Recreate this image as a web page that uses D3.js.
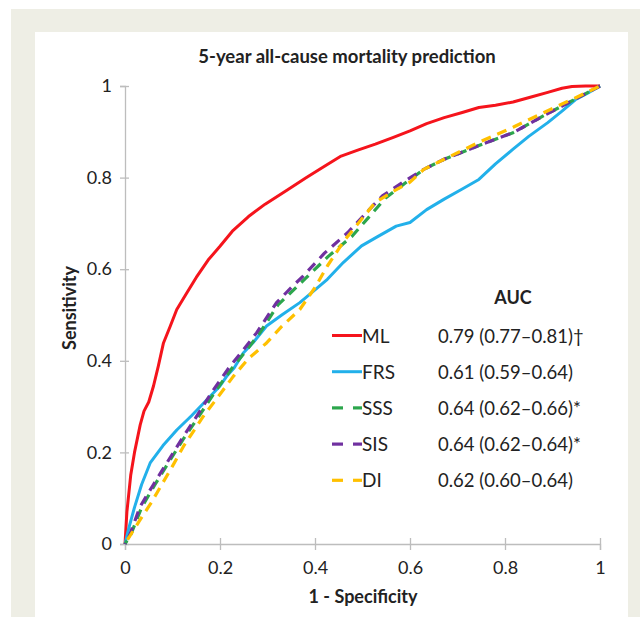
<!DOCTYPE html>
<html>
<head>
<meta charset="utf-8">
<script src="https://cdn.jsdelivr.net/npm/d3@7"></script>
<style>
  body { margin: 0; background: #fff; }
  text { font-family: Lato, "Open Sans", sans-serif; fill: #222; }
</style>
</head>
<body>
<div id="chart-container"></div>
<script>
// ROC curves: [1 - specificity, sensitivity]
const mlPoints = [[0,0],[0.004,0.07],[0.012,0.15],[0.02,0.2],[0.032,0.26],[0.04,0.29],[0.05,0.31],[0.06,0.345],[0.07,0.388],[0.081,0.439],[0.095,0.475],[0.109,0.512],[0.13,0.548],[0.15,0.582],[0.175,0.62],[0.2,0.65],[0.226,0.683],[0.26,0.715],[0.295,0.742],[0.34,0.772],[0.382,0.8],[0.42,0.825],[0.455,0.847],[0.49,0.86],[0.527,0.873],[0.565,0.888],[0.6,0.902],[0.635,0.918],[0.672,0.931],[0.71,0.942],[0.745,0.953],[0.78,0.958],[0.817,0.965],[0.855,0.976],[0.89,0.986],[0.92,0.995],[0.941,0.999],[0.97,1],[1,1]];
const frsPoints = [[0,0],[0.007,0.031],[0.02,0.08],[0.035,0.13],[0.053,0.177],[0.08,0.215],[0.109,0.249],[0.14,0.28],[0.179,0.322],[0.2,0.345],[0.214,0.366],[0.23,0.385],[0.249,0.417],[0.27,0.44],[0.298,0.476],[0.33,0.5],[0.368,0.527],[0.4,0.555],[0.426,0.578],[0.46,0.615],[0.498,0.651],[0.53,0.67],[0.571,0.694],[0.6,0.702],[0.635,0.73],[0.672,0.753],[0.71,0.775],[0.745,0.796],[0.78,0.83],[0.817,0.862],[0.85,0.89],[0.89,0.92],[0.92,0.945],[0.948,0.97],[0.975,0.985],[1,1]];
const sssPoints = [[0,0],[0.012,0.02],[0.035,0.08],[0.062,0.128],[0.09,0.175],[0.122,0.228],[0.155,0.278],[0.19,0.333],[0.226,0.385],[0.255,0.422],[0.282,0.458],[0.322,0.522],[0.355,0.555],[0.38,0.58],[0.428,0.628],[0.478,0.672],[0.512,0.712],[0.548,0.755],[0.59,0.788],[0.629,0.818],[0.672,0.84],[0.745,0.87],[0.817,0.898],[0.89,0.94],[0.962,0.979],[1,1]];
const sisPoints = [[0,0],[0.01,0.02],[0.032,0.082],[0.06,0.13],[0.088,0.177],[0.12,0.23],[0.151,0.279],[0.185,0.335],[0.221,0.388],[0.25,0.425],[0.277,0.461],[0.319,0.527],[0.35,0.56],[0.375,0.585],[0.42,0.635],[0.469,0.68],[0.505,0.72],[0.542,0.76],[0.585,0.79],[0.629,0.818],[0.672,0.84],[0.745,0.87],[0.817,0.898],[0.89,0.94],[0.962,0.979],[1,1]];
const diPoints = [[0,0],[0.007,0.012],[0.03,0.05],[0.055,0.09],[0.077,0.129],[0.1,0.17],[0.123,0.213],[0.165,0.279],[0.195,0.32],[0.228,0.366],[0.26,0.405],[0.298,0.439],[0.33,0.475],[0.368,0.512],[0.4,0.56],[0.426,0.607],[0.46,0.66],[0.498,0.709],[0.527,0.746],[0.565,0.77],[0.6,0.79],[0.629,0.818],[0.672,0.84],[0.745,0.877],[0.817,0.91],[0.89,0.946],[0.95,0.975],[1,1]];

const seriesNames = ["ML", "FRS", "SSS", "SIS", "DI"];
const aucLabels = ["0.79 (0.77\u20130.81)\u2020", "0.61 (0.59\u20130.64)", "0.64 (0.62\u20130.66)*", "0.64 (0.62\u20130.64)*", "0.62 (0.60\u20130.64)"];
const xTicks = [0, 0.2, 0.4, 0.6, 0.8, 1];
const yTicks = [0, 0.2, 0.4, 0.6, 0.8, 1];

const width = 640, height = 617;
const margin = { top: 86, right: 40, bottom: 73, left: 125 };
const colors = ["#f5141c", "#22b0ea", "#2ca64c", "#7030a0", "#ffc000"];
const dashed = [false, false, true, true, true];
const allPoints = [mlPoints, frsPoints, sssPoints, sisPoints, diPoints];

const svg = d3.select("#chart-container")
    .append("svg")
    .attr("width", width)
    .attr("height", height);

// page frame: beige band with white panel
svg.append("rect").attr("x", 11).attr("y", 9).attr("width", width - 11).attr("height", height - 9).attr("fill", "#eeeee5");
svg.append("rect").attr("x", 35).attr("y", 32).attr("width", 593).attr("height", height - 32).attr("fill", "#fff");

const xScale = d3.scaleLinear().domain([0, 1]).range([margin.left, width - margin.right]);
const yScale = d3.scaleLinear().domain([0, 1]).range([height - margin.bottom, margin.top]);

// axes with crossing ticks
const xAxis = svg.append("g")
    .attr("transform", `translate(0,${yScale(0)})`)
    .call(d3.axisBottom(xScale).tickValues(xTicks).tickFormat(d3.format("~g")).tickSize(6).tickPadding(11));
xAxis.selectAll(".tick line").attr("y1", -6);
const yAxis = svg.append("g")
    .attr("transform", `translate(${xScale(0)},0)`)
    .call(d3.axisLeft(yScale).tickValues(yTicks).tickFormat(d3.format("~g")).tickSize(5).tickPadding(8));
yAxis.selectAll(".tick line").attr("x1", 4);
svg.selectAll(".domain").attr("stroke", "#bdbdbd").attr("stroke-width", 1.3);
svg.selectAll(".tick line").attr("stroke", "#bdbdbd").attr("stroke-width", 1.3);
svg.selectAll(".tick text").style("font-size", "18px").style("fill", "#222");

// curves
const line = d3.line().x(d => xScale(d[0])).y(d => yScale(d[1]));
allPoints.forEach((pts, i) => {
    svg.append("path")
        .datum(pts)
        .attr("fill", "none")
        .attr("stroke", colors[i])
        .attr("stroke-width", dashed[i] ? 3.2 : 3)
        .attr("stroke-linejoin", "round")
        .attr("stroke-dasharray", dashed[i] ? "10,7" : null)
        .attr("stroke-dashoffset", dashed[i] ? i * 3 : null)
        .attr("d", line);
});

// title and axis labels
svg.append("text")
    .attr("x", 347).attr("y", 63)
    .attr("text-anchor", "middle")
    .style("font-size", "18.5px").style("font-weight", "bold")
    .text("5-year all-cause mortality prediction");
svg.append("text")
    .attr("x", 363).attr("y", 603)
    .attr("text-anchor", "middle")
    .style("font-size", "18px").style("font-weight", "bold")
    .text("1 - Specificity");
svg.append("text")
    .attr("transform", "translate(76,308) rotate(-90)")
    .attr("text-anchor", "middle")
    .style("font-size", "18px").style("font-weight", "bold")
    .text("Sensitivity");

// legend
svg.append("text")
    .attr("x", 513).attr("y", 304)
    .attr("text-anchor", "middle")
    .style("font-size", "18px").style("font-weight", "bold")
    .text("AUC");
const legend = svg.append("g");
seriesNames.forEach((name, i) => {
    const y = 335.5 + i * 36.2;
    if (dashed[i]) {
        legend.append("line").attr("x1", 332).attr("x2", 343).attr("y1", y).attr("y2", y)
            .attr("stroke", colors[i]).attr("stroke-width", 3.2);
        legend.append("line").attr("x1", 353).attr("x2", 362).attr("y1", y).attr("y2", y)
            .attr("stroke", colors[i]).attr("stroke-width", 3.2);
    } else {
        legend.append("line").attr("x1", 332).attr("x2", 362).attr("y1", y).attr("y2", y)
            .attr("stroke", colors[i]).attr("stroke-width", 3);
    }
    legend.append("text").attr("x", 362).attr("y", y + 7)
        .style("font-size", "19px").text(name);
    legend.append("text").attr("x", 438).attr("y", y + 7)
        .style("font-size", "18.5px").text(aucLabels[i]);
});
</script>
</body>
</html>
